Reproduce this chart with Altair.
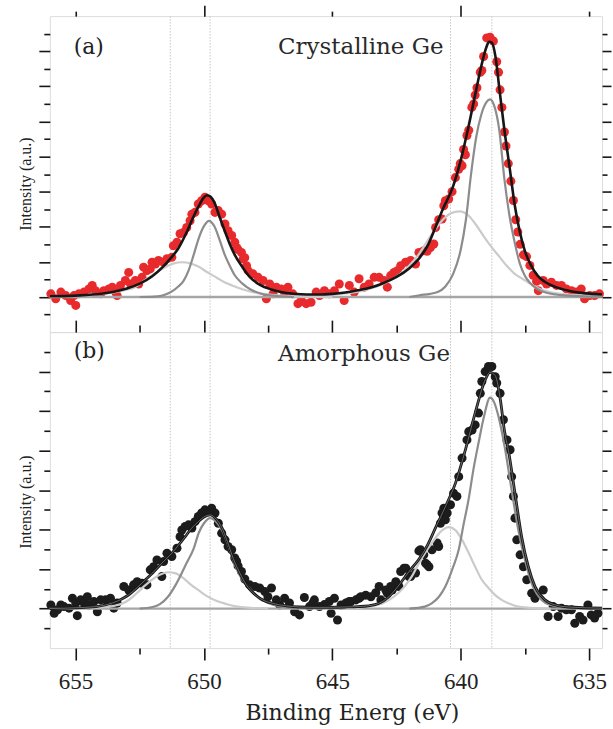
import altair as alt
import pandas as pd

# Binding-energy window (eV), plotted from high to low energy
E_HI, E_LO = 656.0, 634.5

# Dotted guide lines at the fitted component positions (eV)
guide_e = [651.31, 649.76, 640.40, 638.79]

# Tick positions
x_ticks_top = [655, 650, 645, 640, 635]
x_ticks_bottom = [655, 652.5, 650, 647.5, 645, 642.5, 640, 637.5, 635]
y_ticks_a = [-0.5, 0, 0.5, 1, 1.5, 2, 2.5, 3, 3.5, 4, 4.5, 5, 5.5, 6, 6.5, 7, 7.5]
y_ticks_b = [-0.5, 0, 0.5, 1, 1.5, 2, 2.5, 3, 3.5, 4, 4.5, 5, 5.5, 6, 6.5]

# ---------------- (a) crystalline Ge: measured spectrum ----------------
cry_e = [655.96, 655.77, 655.57, 655.38, 655.19, 655.06, 654.99, 654.87, 654.67, 654.48,
         654.35, 654.22, 654.02, 653.90, 653.70, 653.57, 653.44, 653.38, 653.25, 653.06,
         652.93, 652.86, 652.67, 652.54, 652.41, 652.35, 652.22, 652.09, 652.02, 651.89,
         651.77, 651.57, 651.44, 651.25, 651.19, 651.05, 650.93, 650.80, 650.67, 650.54,
         650.47, 650.35, 650.22, 650.09, 649.96, 649.83, 649.70, 649.57, 649.44, 649.31,
         649.18, 649.06, 648.92, 648.80, 648.73, 648.67, 648.54, 648.47, 648.41, 648.34,
         648.28, 648.09, 647.89, 647.70, 647.57, 647.44, 647.31, 647.18, 646.99, 646.86,
         646.73, 646.54, 646.34, 646.21, 646.02, 645.83, 645.63, 645.50, 645.31, 645.12,
         644.92, 644.73, 644.54, 644.34, 644.15, 643.96, 643.76, 643.57, 643.37, 643.18,
         642.99, 642.86, 642.73, 642.60, 642.47, 642.34, 642.15, 641.95, 641.76, 641.63,
         641.44, 641.31, 641.18, 641.05, 640.98, 640.86, 640.73, 640.66, 640.60, 640.47,
         640.34, 640.21, 640.08, 640.02, 639.95, 639.89, 639.82, 639.76, 639.69, 639.57,
         639.50, 639.44, 639.37, 639.24, 639.18, 639.11, 638.99, 638.86, 638.73, 638.60,
         638.53, 638.47, 638.40, 638.30, 638.24, 638.15, 638.05, 637.95, 637.86, 637.78,
         637.69, 637.56, 637.44, 637.31, 637.18, 637.05, 636.98, 636.79, 636.66, 636.47,
         636.27, 636.08, 635.89, 635.69, 635.50, 635.31, 635.18, 634.98, 634.79, 634.60]
cry_i = [0.09, -0.05, 0.14, 0.04, -0.10, 0.04, -0.24, 0.09, 0.14, 0.23,
         0.33, 0.18, 0.09, 0.18, 0.23, 0.28, 0.14, 0.04, 0.33, 0.47,
         0.70, 0.37, 0.47, 0.37, 0.56, 0.85, 0.75, 0.80, 0.99, 0.94,
         1.04, 0.99, 1.09, 1.13, 1.46, 1.56, 1.80, 1.84, 1.98, 2.17,
         2.36, 2.41, 2.65, 2.74, 2.84, 2.74, 2.65, 2.41, 2.46, 2.36,
         2.08, 1.89, 1.75, 1.56, 1.41, 1.35, 1.27, 1.09, 1.12, 0.89,
         0.75, 0.66, 0.56, 0.47, -0.05, 0.37, 0.09, 0.28, 0.23, 0.12,
         0.28, 0.09, -0.19, -0.10, -0.19, -0.15, 0.14, 0.04, 0.18, 0.09,
         0.18, 0.37, -0.10, 0.33, 0.14, 0.52, 0.28, 0.37, 0.56, 0.56,
         0.47, 0.28, 0.61, 0.70, 0.75, 0.89, 0.99, 1.04, 0.94, 1.27,
         1.32, 1.30, 1.41, 1.51, 1.98, 2.20, 2.22, 2.60, 2.74, 2.79,
         3.00, 3.40, 3.64, 3.80, 3.74, 4.20, 4.05, 4.60, 4.75, 5.40,
         5.50, 5.75, 5.96, 6.40, 6.45, 6.85, 7.38, 7.40, 7.29, 6.70,
         6.40, 5.90, 5.40, 4.70, 4.30, 3.80, 3.30, 2.75, 2.20, 1.85,
         1.50, 1.20, 1.15, 0.90, 0.62, 0.45, 0.18, 0.47, 0.37, 0.42,
         0.33, 0.33, 0.23, 0.18, 0.14, 0.23, -0.05, 0.04, 0.04, 0.09]

# (a) total fit envelope
cry_fit_e = [656.0, 655.0, 654.0, 653.5, 653.0, 652.5, 652.0, 651.6, 651.3, 651.0,
             650.7, 650.4, 650.15, 650.0, 649.88, 649.75, 649.6, 649.4, 649.2, 649.0,
             648.8, 648.5, 648.2, 647.8, 647.4, 647.0, 646.5, 646.0, 645.5, 645.0,
             644.5, 644.0, 643.5, 643.0, 642.5, 642.0, 641.6, 641.3, 641.0, 640.7,
             640.3, 640.0, 639.7, 639.4, 639.2, 639.0, 638.9, 638.8, 638.65, 638.5,
             638.3, 638.1, 637.9, 637.7, 637.5, 637.3, 637.0, 636.7, 636.3, 635.8,
             635.2, 634.5]
cry_fit_i = [0.02, 0.04, 0.09, 0.15, 0.24, 0.38, 0.60, 0.86, 1.10, 1.38,
             1.80, 2.30, 2.66, 2.84, 2.90, 2.86, 2.70, 2.30, 1.90, 1.52,
             1.20, 0.85, 0.56, 0.34, 0.22, 0.14, 0.09, 0.07, 0.07, 0.09,
             0.13, 0.19, 0.27, 0.40, 0.57, 0.82, 1.12, 1.45, 1.96, 2.50,
             3.15, 3.90, 4.85, 5.90, 6.58, 7.12, 7.27, 7.25, 6.85, 5.95,
             4.75, 3.70, 2.62, 1.85, 1.30, 0.95, 0.60, 0.42, 0.28, 0.18,
             0.11, 0.07]

# (a) components: upper doublet line, sharp + broad
cry_hi_sharp_e = [652.5, 651.8, 651.5, 651.2, 651.0, 650.8, 650.6, 650.4, 650.2, 650.0,
                  649.8, 649.6, 649.4, 649.2, 649.0, 648.8, 648.5, 648.2, 647.8, 647.3, 646.5]
cry_hi_sharp_i = [0.0, 0.02, 0.07, 0.18, 0.30, 0.45, 0.75, 1.20, 1.68, 2.02,
                  2.17, 2.02, 1.65, 1.22, 0.90, 0.62, 0.38, 0.22, 0.10, 0.04, 0.0]
cry_hi_broad_e = [656.0, 655.0, 654.0, 653.5, 653.0, 652.7, 652.4, 652.1, 651.8, 651.5,
                  651.2, 650.85, 650.5, 650.2, 649.9, 649.5, 649.2, 648.9, 648.5, 648.1,
                  647.6, 647.0, 646.0, 645.0]
cry_hi_broad_i = [0.01, 0.03, 0.08, 0.13, 0.21, 0.27, 0.43, 0.58, 0.72, 0.85,
                  0.95, 0.99, 0.95, 0.86, 0.72, 0.55, 0.42, 0.33, 0.22, 0.14,
                  0.08, 0.04, 0.01, 0.0]

# (a) components: lower doublet line, sharp + broad
cry_lo_sharp_e = [642.0, 641.6, 641.2, 640.9, 640.6, 640.3, 640.0, 639.8, 639.6, 639.4,
                  639.2, 639.0, 638.86, 638.7, 638.5, 638.3, 638.1, 637.9, 637.7, 637.5,
                  637.3, 637.0, 636.7, 636.3, 635.8, 635.0, 634.5]
cry_lo_sharp_i = [0.0, 0.05, 0.09, 0.14, 0.30, 0.65, 1.35, 2.20, 3.50, 4.55,
                  5.20, 5.55, 5.63, 5.45, 4.75, 3.35, 2.30, 1.55, 0.95, 0.60,
                  0.40, 0.22, 0.13, 0.07, 0.04, 0.01, 0.0]
cry_lo_broad_e = [646.0, 645.0, 644.5, 644.0, 643.5, 643.0, 642.5, 642.0, 641.6, 641.3,
                  641.0, 640.7, 640.4, 640.05, 639.7, 639.4, 639.1, 638.8, 638.5, 638.2,
                  637.9, 637.6, 637.3, 636.9, 636.5, 636.0, 635.2, 634.5]
cry_lo_broad_i = [0.03, 0.06, 0.10, 0.15, 0.24, 0.38, 0.58, 0.90, 1.25, 1.60,
                  1.92, 2.20, 2.38, 2.44, 2.32, 2.05, 1.72, 1.42, 1.15, 0.88,
                  0.66, 0.52, 0.38, 0.22, 0.13, 0.08, 0.04, 0.02]

# ---------------- (b) amorphous Ge: measured spectrum ----------------
amo_e = [655.96, 655.83, 655.70, 655.57, 655.45, 655.25, 655.12, 654.99, 654.93, 654.80,
         654.67, 654.54, 654.48, 654.28, 654.15, 654.02, 653.83, 653.64, 653.51, 653.38,
         653.12, 652.93, 652.74, 652.60, 652.41, 652.22, 652.09, 651.96, 651.83, 651.64,
         651.57, 651.44, 651.25, 651.05, 650.93, 650.86, 650.73, 650.60, 650.47, 650.35,
         650.22, 650.09, 649.96, 649.83, 649.70, 649.57, 649.44, 649.31, 649.18, 649.06,
         648.92, 648.80, 648.73, 648.67, 648.54, 648.41, 648.22, 648.02, 647.83, 647.63,
         647.51, 647.37, 647.18, 647.05, 646.86, 646.67, 646.47, 646.28, 646.09, 645.89,
         645.76, 645.70, 645.50, 645.31, 645.12, 645.05, 644.92, 644.80, 644.66, 644.47,
         644.34, 644.28, 644.08, 643.96, 643.89, 643.70, 643.50, 643.31, 643.18, 643.11,
         642.92, 642.86, 642.73, 642.67, 642.53, 642.41, 642.34, 642.21, 642.14, 642.02,
         641.95, 641.76, 641.63, 641.57, 641.44, 641.37, 641.31, 641.24, 641.12, 640.92,
         640.86, 640.79, 640.73, 640.66, 640.60, 640.53, 640.40, 640.28, 640.15, 640.08,
         639.95, 639.76, 639.69, 639.56, 639.44, 639.31, 639.24, 639.18, 639.05, 638.92,
         638.79, 638.66, 638.60, 638.47, 638.34, 638.20, 638.08, 638.02, 637.95, 637.89,
         637.82, 637.69, 637.56, 637.43, 637.24, 637.11, 636.79, 636.60, 636.40, 636.21,
         636.08, 635.89, 635.69, 635.56, 635.37, 635.24, 635.05, 634.92, 634.79, 634.66]
amo_i = [0.09, -0.12, -0.03, 0.09, 0.05, 0.01, 0.26, 0.14, -0.18, 0.22,
         0.14, 0.30, 0.09, 0.18, -0.08, 0.22, 0.22, 0.26, 0.01, 0.14,
         0.56, 0.47, 0.60, 0.68, 0.64, 0.60, 0.98, 1.06, 1.23, 0.81,
         1.19, 1.40, 1.32, 1.53, 1.82, 1.99, 2.08, 2.12, 2.04, 2.20,
         2.33, 2.42, 2.50, 2.46, 2.54, 2.42, 2.16, 1.91, 1.74, 1.57,
         1.49, 1.28, 1.20, 1.08, 0.94, 0.75, 0.60, 0.56, 0.52, 0.43,
         0.30, 0.52, 0.22, 0.09, 0.26, 0.14, -0.08, -0.16, 0.28, 0.05,
         0.14, 0.22, 0.05, 0.10, 0.18, -0.12, 0.26, -0.29, 0.09, 0.14,
         0.18, 0.18, 0.22, 0.26, 0.30, 0.34, 0.30, 0.40, 0.56, 0.22,
         0.47, 0.39, 0.56, 0.47, 0.68, 0.56, 0.94, 1.02, 1.02, 0.81,
         0.81, 0.90, 1.46, 1.49, 1.36, 1.15, 1.11, 1.06, 1.49, 1.66,
         1.57, 2.16, 2.42, 2.54, 2.25, 2.42, 2.63, 2.92, 2.84, 3.34,
         3.81, 4.27, 4.48, 4.52, 4.65, 4.95, 5.45, 5.75, 6.00, 6.13,
         6.13, 5.87, 5.71, 5.45, 4.78, 4.27, 4.02, 3.34, 2.84, 2.29,
         1.74, 1.36, 1.06, 0.73, 0.39, 0.26, 0.47, -0.20, 0.05, -0.20,
         0.01, -0.03, -0.03, -0.37, -0.20, -0.29, 0.09, -0.16, -0.24, -0.12]

# (b) total fit envelope
amo_fit_e = [656.0, 655.0, 654.2, 653.57, 653.2, 652.93, 652.6, 652.28, 652.0, 651.77,
             651.5, 651.25, 651.0, 650.73, 650.5, 650.22, 650.0, 649.76, 649.5, 649.31,
             649.1, 648.86, 648.6, 648.35, 648.09, 647.8, 647.31, 646.8, 646.28, 645.5,
             644.5, 644.0, 643.6, 643.2, 642.8, 642.4, 642.0, 641.63, 641.3, 640.98,
             640.6, 640.21, 639.82, 639.44, 639.05, 638.86, 638.66, 638.45, 638.3, 638.15,
             637.89, 637.63, 637.37, 637.11, 636.72, 636.3, 635.8, 634.5]
amo_fit_i = [0.0, 0.02, 0.05, 0.14, 0.24, 0.35, 0.53, 0.73, 0.90, 1.06,
             1.24, 1.40, 1.60, 1.82, 2.02, 2.20, 2.32, 2.37, 2.25, 2.06,
             1.72, 1.27, 0.90, 0.60, 0.40, 0.25, 0.13, 0.07, 0.04, 0.03,
             0.04, 0.05, 0.07, 0.13, 0.30, 0.60, 0.95, 1.25, 1.60, 2.05,
             2.58, 3.17, 4.02, 4.95, 5.79, 5.98, 5.90, 5.25, 4.50, 4.02,
             2.92, 1.82, 1.06, 0.56, 0.22, 0.09, 0.04, 0.01]

# (b) components: upper doublet line, sharp + broad
amo_hi_sharp_e = [652.5, 652.0, 651.7, 651.4, 651.1, 650.9, 650.7, 650.4, 650.2, 650.0,
                  649.76, 649.5, 649.2, 649.0, 648.8, 648.5, 648.2, 647.9, 647.5, 647.0, 646.3]
amo_hi_sharp_i = [0.0, 0.04, 0.12, 0.30, 0.60, 0.85, 1.12, 1.52, 1.92, 2.16,
                  2.29, 2.18, 1.85, 1.50, 1.12, 0.72, 0.50, 0.30, 0.14, 0.05, 0.0]
amo_hi_broad_e = [656.0, 654.5, 654.0, 653.5, 653.2, 652.9, 652.6, 652.3, 652.0, 651.7,
                  651.4, 651.1, 650.8, 650.5, 650.2, 649.9, 649.5, 649.1, 648.7, 648.2, 647.5]
amo_hi_broad_i = [0.0, 0.01, 0.03, 0.07, 0.12, 0.23, 0.40, 0.58, 0.74, 0.86,
                  0.92, 0.89, 0.77, 0.60, 0.46, 0.32, 0.19, 0.11, 0.05, 0.02, 0.0]

# (b) components: lower doublet line, sharp + broad
amo_lo_sharp_e = [642.0, 641.4, 641.12, 640.85, 640.6, 640.3, 640.08, 639.9, 639.7, 639.5,
                  639.31, 639.1, 638.86, 638.7, 638.53, 638.27, 638.02, 637.76, 637.5, 637.24,
                  636.85, 636.5, 636.2, 635.5, 634.5]
amo_lo_sharp_i = [0.0, 0.05, 0.14, 0.30, 0.56, 1.05, 1.49, 2.10, 2.75, 3.55,
                  4.19, 4.85, 5.34, 5.22, 4.86, 4.02, 3.00, 1.99, 1.23, 0.64,
                  0.22, 0.09, 0.05, 0.01, 0.0]
amo_lo_broad_e = [644.5, 644.0, 643.5, 643.0, 642.6, 642.2, 641.9, 641.63, 641.35, 641.12,
                  640.85, 640.47, 640.2, 639.95, 639.7, 639.44, 639.2, 638.92, 638.66, 638.41,
                  638.1, 637.76, 637.3, 636.5]
amo_lo_broad_i = [0.0, 0.02, 0.06, 0.15, 0.30, 0.55, 0.82, 1.15, 1.45, 1.66,
                  1.90, 2.06, 1.98, 1.74, 1.42, 1.06, 0.75, 0.52, 0.34, 0.22,
                  0.12, 0.05, 0.02, 0.0]

# ---------------- styling ----------------
SERIF = "DejaVu Serif"
TIMES = "Liberation Serif"
INK = "#161616"
DARK_GREY = "#8c8c8c"
LIGHT_GREY = "#cbcbcb"
BASE_GREY = "#a6a6a6"
GUIDE_GREY = "#c6c6c6"
W = 554
H = 317


def frame(e, i):
    return pd.DataFrame({"e": e, "i": i})


def tick_rule(test, big, small):
    return {"condition": {"test": test, "value": big}, "value": small}


def panel(points, point_color, fit, comps, y_dom, y_ticks, tag, name, tag_y, name_y,
          title_y, x_axis_main, x_axis_fit, hollow_fit):
    xs = alt.Scale(domain=[E_HI, E_LO], nice=False, zero=False)
    ys = alt.Scale(domain=y_dom, nice=False, zero=False)

    y_left = alt.Axis(orient="left", values=y_ticks, labels=False, domain=False, grid=False,
                      tickColor=INK, tickWidth=1.6,
                      tickSize=tick_rule("datum.value % 1 === 0", 11, 6),
                      title="Intensity (a.u.)", titleFont=TIMES, titleFontSize=16,
                      titleFontWeight="normal", titleColor="#222222",
                      titleX=-24, titleY=title_y, titleAlign="center",
                      titleBaseline="middle", titleAngle=270)
    y_right = alt.Axis(orient="right", values=y_ticks, labels=False, domain=False, grid=False,
                       tickColor=INK, tickWidth=1.6,
                       tickSize=tick_rule("datum.value % 1 === 0", 9, 5), title=None)

    guides = alt.Chart(pd.DataFrame({"e": guide_e})).mark_rule(
        color=GUIDE_GREY, strokeWidth=1, strokeDash=[1.5, 1.5]
    ).encode(x=alt.X("e:Q", scale=xs, axis=None))

    dots = alt.Chart(points).mark_circle(size=82, color=point_color, opacity=1).encode(
        x=alt.X("e:Q", scale=xs, axis=x_axis_main),
        y=alt.Y("i:Q", scale=ys, axis=y_left),
    )

    base = alt.Chart(pd.DataFrame({"i": [0]})).mark_rule(
        color=BASE_GREY, strokeWidth=2.4
    ).encode(y=alt.Y("i:Q", scale=ys, axis=None))

    layers = [guides, dots, base]
    for df, col in comps:
        layers.append(
            alt.Chart(df).mark_line(color=col, strokeWidth=2.2, interpolate="monotone").encode(
                x=alt.X("e:Q", scale=xs, axis=None),
                y=alt.Y("i:Q", scale=ys, axis=None),
            )
        )

    layers.append(
        alt.Chart(fit).mark_line(color=INK, strokeWidth=2.8 if hollow_fit else 2.6,
                                 interpolate="monotone").encode(
            x=alt.X("e:Q", scale=xs, axis=x_axis_fit),
            y=alt.Y("i:Q", scale=ys, axis=y_right),
        )
    )
    if hollow_fit:
        layers.append(
            alt.Chart(fit).mark_line(color="#bdbdbd", strokeWidth=0.5,
                                     interpolate="monotone").encode(
                x=alt.X("e:Q", scale=xs, axis=None),
                y=alt.Y("i:Q", scale=ys, axis=None),
            )
        )

    one = pd.DataFrame({"k": [0]})
    layers.append(
        alt.Chart(one).mark_text(text=tag, font=SERIF, fontSize=22, color="#222222",
                                 align="left", baseline="alphabetic").encode(
            x=alt.value(24), y=alt.value(tag_y))
    )
    layers.append(
        alt.Chart(one).mark_text(text=name, font=SERIF, fontSize=23, color="#2a2a2a",
                                 align="left", baseline="alphabetic").encode(
            x=alt.value(229), y=alt.value(name_y))
    )

    return alt.layer(*layers).resolve_axis(x="independent", y="independent").properties(
        width=W, height=H)


# top panel: outward ticks on the upper frame
x_top_a = alt.Axis(orient="top", values=x_ticks_top, labels=False, domain=False, grid=False,
                   tickColor=INK, tickWidth=1.6,
                   tickSize=tick_rule("datum.value % 10 === 0", 11, 5), title=None)

# bottom panel: labelled lower axis, and ticks rising from the shared edge
x_bottom_b = alt.Axis(orient="bottom", values=x_ticks_bottom, domain=False, grid=False,
                      tickColor=INK, tickWidth=1.6,
                      tickSize=tick_rule("datum.value % 5 === 0", 12, 6),
                      labelExpr="datum.value % 5 === 0 ? datum.label : ''",
                      labelFont=TIMES, labelFontSize=23, labelColor="#222222",
                      labelPadding=11, labelFlush=False, labelOverlap=False,
                      title="Binding Energ (eV)", titleFont=SERIF, titleFontSize=22,
                      titleFontWeight="normal", titleColor="#222222",
                      titleX=303, titleY=72, titleAlign="center",
                      titleBaseline="alphabetic")
x_top_b = alt.Axis(orient="top", values=x_ticks_bottom, labels=False, domain=False, grid=False,
                   tickColor=INK, tickWidth=1.6,
                   tickSize=tick_rule("datum.value % 5 === 0", 12, 7), title=None)

top = panel(
    frame(cry_e, cry_i), "#e82a2c", frame(cry_fit_e, cry_fit_i),
    [(frame(cry_hi_broad_e, cry_hi_broad_i), LIGHT_GREY),
     (frame(cry_lo_broad_e, cry_lo_broad_i), LIGHT_GREY),
     (frame(cry_hi_sharp_e, cry_hi_sharp_i), DARK_GREY),
     (frame(cry_lo_sharp_e, cry_lo_sharp_i), DARK_GREY)],
    [-1, 8], y_ticks_a, "(a)", "Crystalline Ge", 37.5, 37.5, 168,
    x_top_a, None, False,
)

bottom = panel(
    frame(amo_e, amo_i), "#1c1c1c", frame(amo_fit_e, amo_fit_i),
    [(frame(amo_hi_broad_e, amo_hi_broad_i), LIGHT_GREY),
     (frame(amo_lo_broad_e, amo_lo_broad_i), LIGHT_GREY),
     (frame(amo_hi_sharp_e, amo_hi_sharp_i), DARK_GREY),
     (frame(amo_lo_sharp_e, amo_lo_sharp_i), DARK_GREY)],
    [-1, 7], y_ticks_b, "(b)", "Amorphous Ge", 26, 29, 170,
    x_bottom_b, x_top_b, True,
)

chart = alt.vconcat(top, bottom, spacing=0, bounds="flush").configure_view(
    stroke=INK, strokeWidth=2
).configure_axis(grid=False).configure(
    padding={"left": 17, "top": 2, "right": 0, "bottom": 0},
    background="white",
)

chart.save("out.html", embed_options={"renderer": "svg", "actions": False})
